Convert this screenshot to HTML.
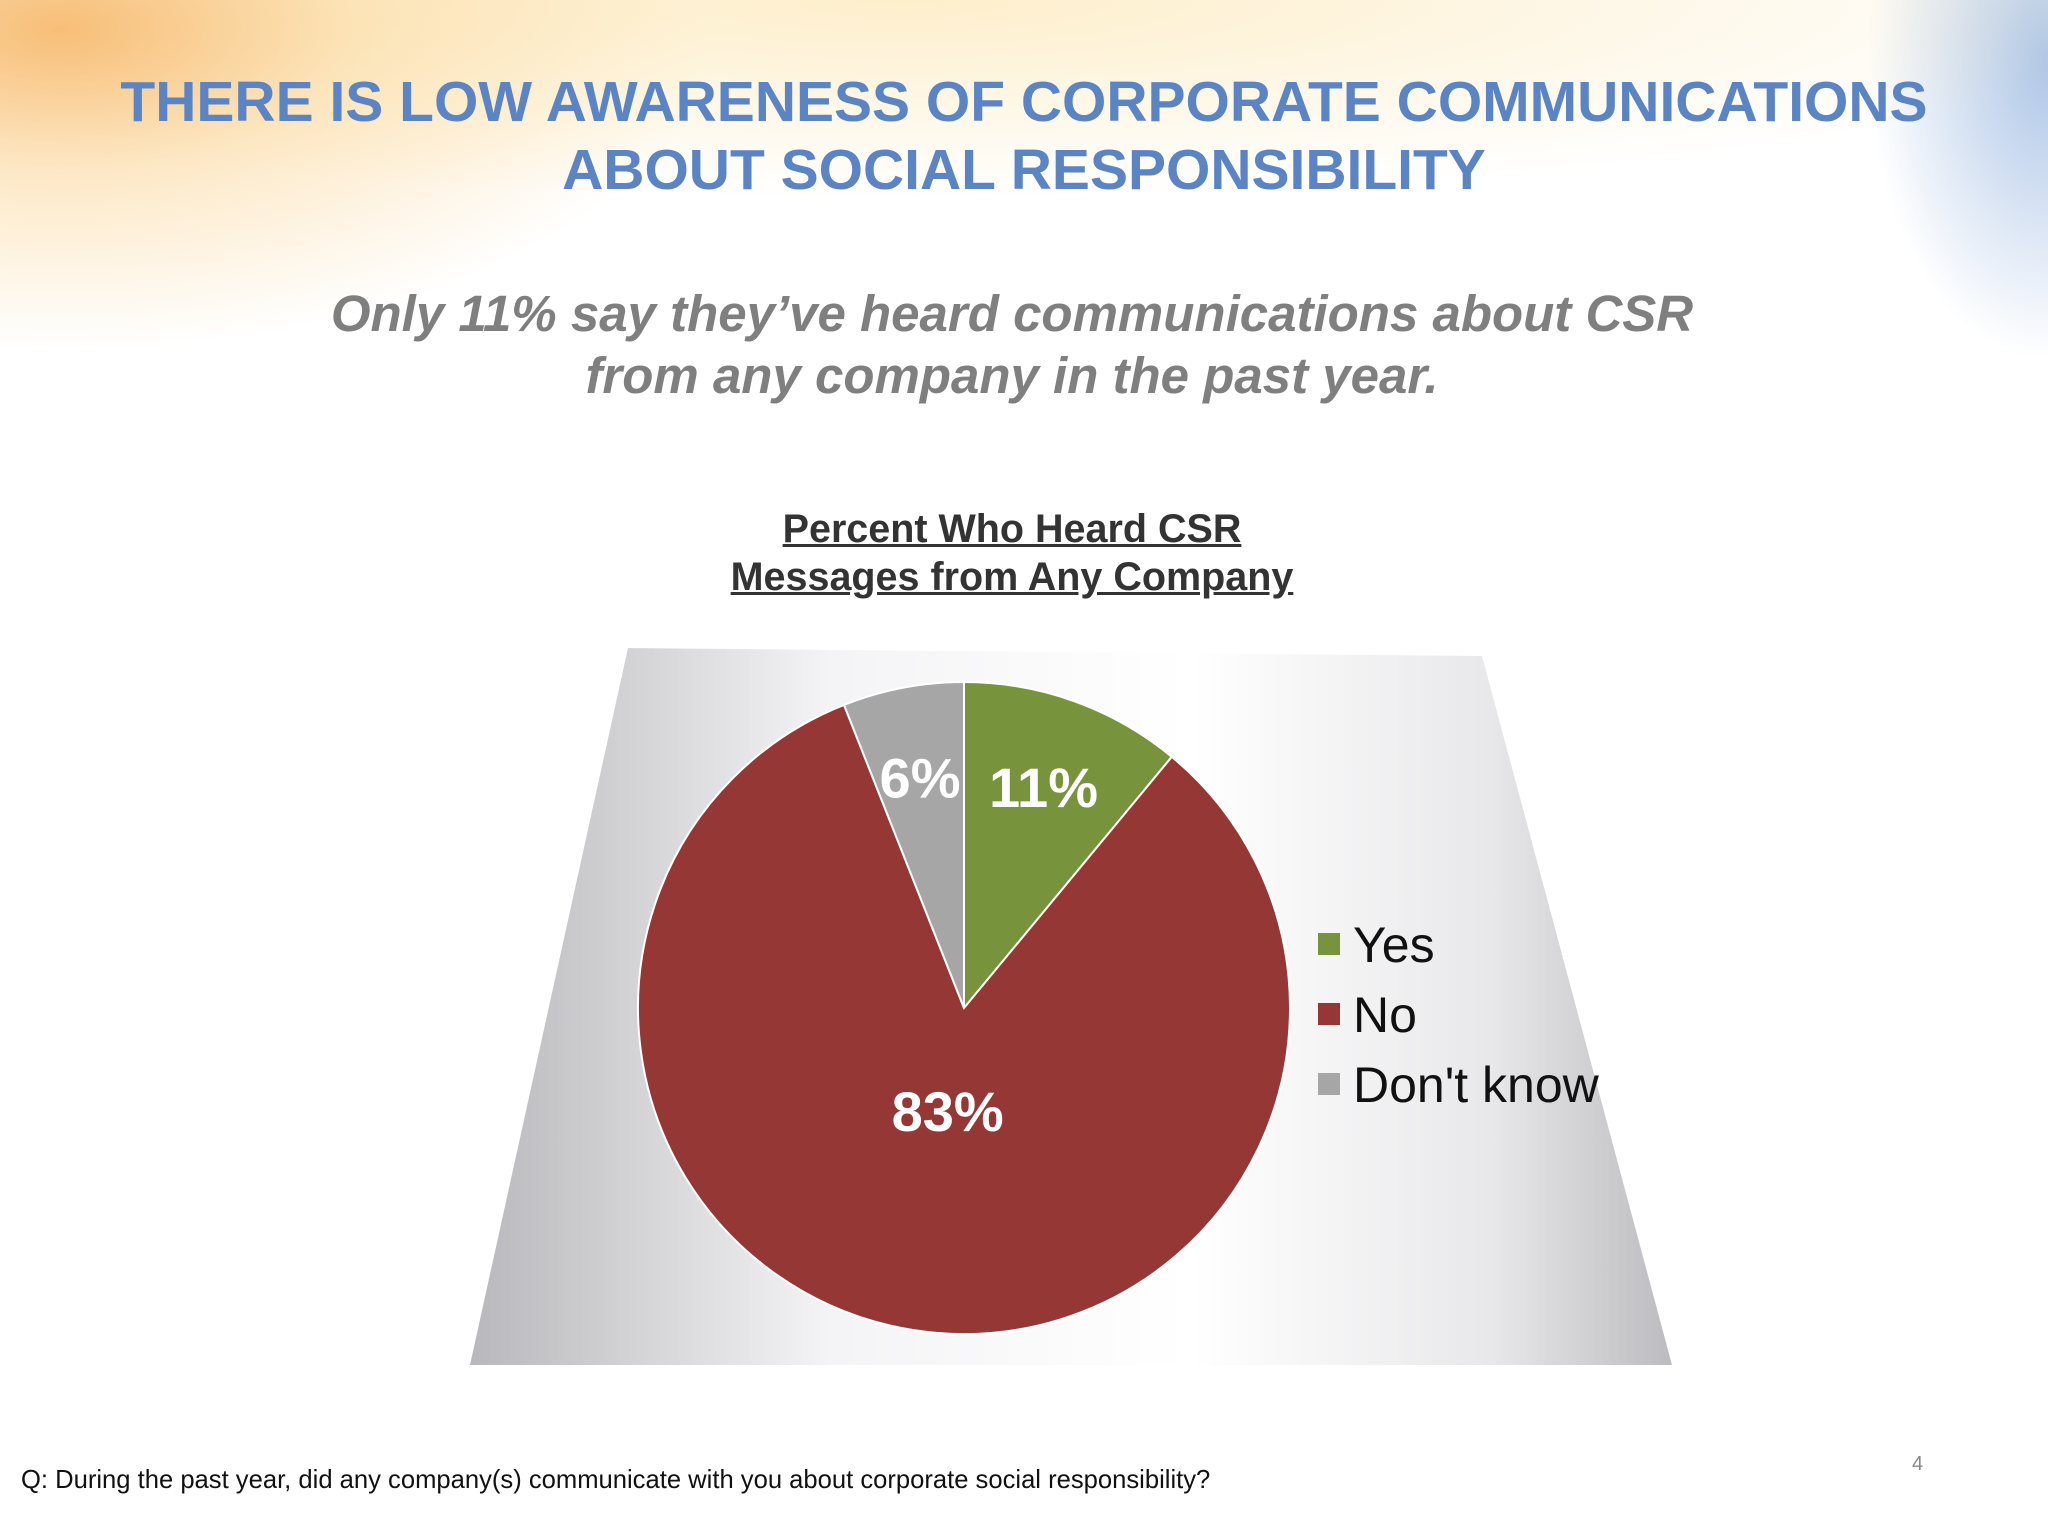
<!DOCTYPE html>
<html><head><meta charset="utf-8"><style>
html,body{margin:0;padding:0}
body{width:2048px;height:1536px;position:relative;overflow:hidden;background:#fff;font-family:"Liberation Sans",sans-serif}
.bg{position:absolute;inset:0;background:
radial-gradient(ellipse 650px 320px at 60px 30px, rgba(245,170,80,0.75), rgba(250,205,130,0.45) 45%, rgba(255,255,255,0) 100%),
radial-gradient(ellipse 1300px 200px at 900px 0px, rgba(252,225,160,0.55), rgba(255,255,255,0) 100%),
radial-gradient(ellipse 180px 300px at 2048px 60px, rgba(120,160,215,0.6), rgba(255,255,255,0) 100%);}
.t{position:absolute;left:0;width:2048px;text-align:center}
</style></head><body>
<div class="bg"></div>
<div class="t" style="top:68px;font-size:57px;font-weight:bold;color:#5b84c4;line-height:68px">THERE IS LOW AWARENESS OF CORPORATE COMMUNICATIONS<br>ABOUT SOCIAL RESPONSIBILITY</div>
<div class="t" style="top:283px;left:-12px;font-size:51px;font-weight:bold;font-style:italic;color:#7f7f7f;line-height:62px">Only 11% say they’ve heard communications about CSR<br>from any company in the past year.</div>
<div class="t" style="top:505px;left:-12px;font-size:39.5px;font-weight:bold;color:#333;line-height:48px;text-decoration:underline">Percent Who Heard CSR<br>Messages from Any Company</div>
<svg width="2048" height="1536" style="position:absolute;left:0;top:0">
<defs><linearGradient id="g" x1="0" x2="1" y1="0" y2="0">
<stop offset="0" stop-color="#b8b8bc"/><stop offset="0.3" stop-color="#f4f4f6"/><stop offset="0.6" stop-color="#ffffff"/><stop offset="0.85" stop-color="#e8e8ea"/><stop offset="1" stop-color="#bcbcc0"/></linearGradient></defs>
<polygon points="628,648 1482,656 1672,1365 470,1365" fill="url(#g)"/>
<g id="pie"></g>
<g id="legend"></g>
</svg>
<div style="position:absolute;left:21px;top:1466px;font-size:25.6px;color:#111">Q: During the past year, did any company(s) communicate with you about corporate social responsibility?</div>
<div style="position:absolute;left:1912px;top:1453px;font-size:20px;color:#888">4</div>
<script>
const categories=["Yes","No","Don't know"];
const values=[11,83,6];
const colors=["#77933c","#953735","#a6a6a6"];
const NS="http://www.w3.org/2000/svg";
const cx=964,cy=1008,r=326;
const pie=document.getElementById('pie');
const total=values.reduce((a,b)=>a+b,0);
let a0=0;
values.forEach((v,i)=>{
  const a1=a0+v/total*2*Math.PI;
  const x0=cx+r*Math.sin(a0),y0=cy-r*Math.cos(a0),x1=cx+r*Math.sin(a1),y1=cy-r*Math.cos(a1);
  const p=document.createElementNS(NS,'path');
  p.setAttribute('d',`M${cx},${cy}L${x0},${y0}A${r},${r} 0 ${a1-a0>Math.PI?1:0} 1 ${x1},${y1}Z`);
  p.setAttribute('fill',colors[i]);p.setAttribute('stroke','#fff');p.setAttribute('stroke-width','2');
  
  
  pie.appendChild(p);
  const m=(a0+a1)/2, lr= v>50?0.32*r:0.72*r;
  const t=document.createElementNS(NS,'text');
  t.setAttribute('x',cx+lr*Math.sin(m));t.setAttribute('y',cy-lr*Math.cos(m)+20);
  t.setAttribute('text-anchor','middle');t.setAttribute('font-size','56');t.setAttribute('font-weight','bold');
  t.setAttribute('fill','#fff');t.setAttribute('font-family','Liberation Sans, sans-serif');
  t.textContent=v+'%';
  
  
  pie.appendChild(t);
  a0=a1;
});
const lg=document.getElementById('legend');
categories.forEach((c,i)=>{
  const y=944+i*70;
  const s=document.createElementNS(NS,'rect');
  s.setAttribute('x',1318);s.setAttribute('y',y-11);s.setAttribute('width',22);s.setAttribute('height',22);s.setAttribute('fill',colors[i]);
  
  
  lg.appendChild(s);
  const t=document.createElementNS(NS,'text');
  t.setAttribute('x',1353);t.setAttribute('y',y+18);t.setAttribute('font-size','50');t.setAttribute('fill','#111');
  t.setAttribute('font-family','Liberation Sans, sans-serif');
  t.textContent=c;
  
  
  lg.appendChild(t);
});
</script>
</body></html>
